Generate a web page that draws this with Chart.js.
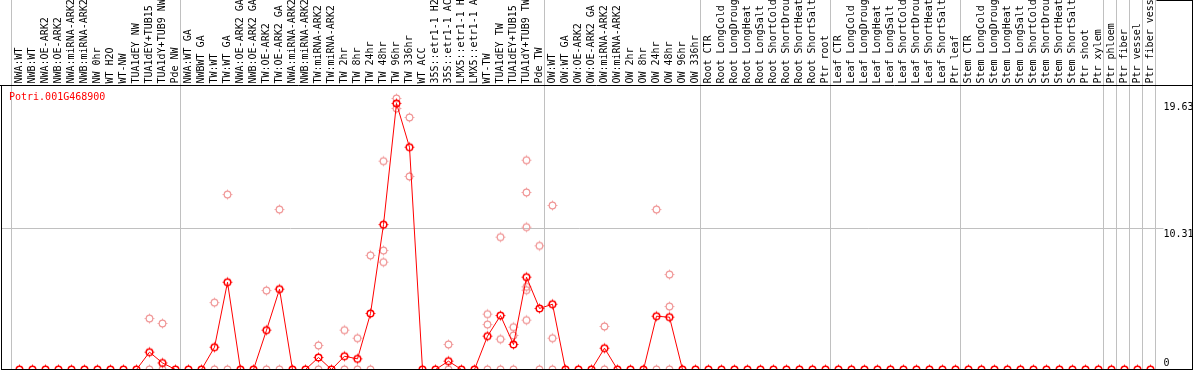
<!DOCTYPE html>
<html>
<head>
<meta charset="utf-8">
<script src="https://cdn.jsdelivr.net/npm/chart.js"></script>
<style>
  html, body { margin: 0; padding: 0; background: #fff; }
  canvas { display: block; }
</style>
</head>
<body>
<canvas id="chart" width="1194" height="370"></canvas>
<script>
// sample names, left to right
const sampleLabels = [
  "NWA:WT", "NWB:WT", "NWA:OE-ARK2", "NWB:OE-ARK2", "NWA:miRNA-ARK2", "NWB:miRNA-ARK2",
  "NW 0hr", "WT H2O", "WT-NW", "TUA1dEY NW", "TUA1dEY+TUB15", "TUA1dY+TUB9 NW", "Pde NW",
  "NWA:WT GA", "NWBWT GA", "TW:WT", "TW:WT GA", "NWA:OE-ARK2 GA", "NWB:OE-ARK2 GA",
  "TW:OE-ARK2", "TW:OE-ARK2 GA", "NWA:miRNA-ARK2", "NWB:miRNA-ARK2", "TW:miRNA-ARK2", "TW:miRNA-ARK2",
  "TW 2hr", "TW 8hr", "TW 24hr", "TW 48hr", "TW 96hr", "TW 336hr", "WT ACC",
  "35S::etr1-1 H2O", "35S::etr1-1 ACC", "LMX5::etr1-1 H2O", "LMX5::etr1-1 ACC",
  "WT-TW", "TUA1dEY TW", "TUA1dEY+TUB15", "TUA1dY+TUB9 TW", "Pde TW",
  "OW:WT", "OW:WT GA", "OW:OE-ARK2", "OW:OE-ARK2 GA", "OW:miRNA-ARK2", "OW:miRNA-ARK2",
  "OW 2hr", "OW 8hr", "OW 24hr", "OW 48hr", "OW 96hr", "OW 336hr",
  "Root CTR", "Root LongCold", "Root LongDrought", "Root LongHeat", "Root LongSalt",
  "Root ShortCold", "Root ShortDrought", "Root ShortHeat", "Root ShortSalt", "Ptr root",
  "Leaf CTR", "Leaf LongCold", "Leaf LongDrought", "Leaf LongHeat", "Leaf LongSalt",
  "Leaf ShortCold", "Leaf ShortDrought", "Leaf ShortHeat", "Leaf ShortSalt", "Ptr leaf",
  "Stem CTR", "Stem LongCold", "Stem LongDrought", "Stem LongHeat", "Stem LongSalt",
  "Stem ShortCold", "Stem ShortDrought", "Stem ShortHeat", "Stem ShortSalt",
  "Ptr shoot", "Ptr xylem", "Ptr phloem", "Ptr fiber", "Ptr vessel", "Ptr fiber vessel"
];

// mean expression per sample
const meanValues = [
  0, 0, 0, 0, 0, 0, 0, 0, 0, 0, 1.27, 0.48, 0,
  0, 0, 1.63, 6.39, 0, 0, 2.88, 5.88, 0, 0, 0.88, 0,
  0.97, 0.78, 4.10, 10.61, 19.48, 16.27, 0, 0, 0.61, 0, 0,
  2.44, 3.95, 1.83, 6.76, 4.47,
  4.78, 0, 0, 0, 1.56, 0, 0, 0, 3.90, 3.83, 0, 0,
  0, 0, 0, 0, 0, 0, 0, 0, 0, 0,
  0, 0, 0, 0, 0, 0, 0, 0, 0, 0,
  0, 0, 0, 0, 0, 0, 0, 0, 0,
  0, 0, 0, 0, 0, 0
];

// individual replicate values, keyed by sample index (only samples with signal)
const replicateIndex = [10, 11, 15, 16, 19, 20, 23, 25, 26, 27, 28, 29, 30, 33, 36, 37, 38, 39, 40, 41, 45, 49, 50];
const replicateValues = [
  [3.73, 0], [3.37, 0], [4.90, 0], [12.81, 0],
  [5.78, 0], [11.71, 0], [1.76, 0], [2.88, 0],
  [2.29, 0], [8.35, 0], [15.25, 8.71, 7.86], [19.84, 19.11],
  [18.45, 14.13], [1.83, 0], [4.05, 3.29, 0], [9.69, 2.22, 0],
  [3.10, 2.49, 0], [15.32, 12.96, 10.42, 6.05, 5.81, 3.61],
  [9.05, 0], [12.01, 2.29, 0], [3.15, 0], [11.71, 0],
  [6.95, 4.61, 0]
];

// first sample of each group (group dividers)
const groupStarts = [0, 13, 41, 53, 63, 73, 84, 85, 86, 87, 88];

const yTicks = [0, 10.31, 19.63];
const geneName = "Potri.001G468900";

const monoFont = { family: "DejaVu Sans Mono", size: 10, lineHeight: 1.2 };

// hollow circle with four small notches, like the original plot symbol
function makeMarker(color, lw) {
  const c = document.createElement("canvas");
  c.width = 13;
  c.height = 13;
  const g = c.getContext("2d");
  g.strokeStyle = color;
  g.fillStyle = color;
  g.lineWidth = lw;
  g.beginPath();
  g.arc(6.5, 6.5, 3.3, 0, Math.PI * 2);
  g.stroke();
  g.fillRect(6, 1.6, 1, 1.2);
  g.fillRect(6, 10.2, 1, 1.2);
  g.fillRect(1.6, 6, 1.2, 1);
  g.fillRect(10.2, 6, 1.2, 1);
  return c;
}

const meanPoints = meanValues.map(function (v, i) { return { x: i, y: v }; });
const repPoints = [];
replicateIndex.forEach(function (k, n) {
  replicateValues[n].forEach(function (v) { repPoints.push({ x: k, y: v }); });
});

// two-line labels push the text below (or above, for 0) the tick like the original
function yTickText(v) {
  if (v === 0) return ["0", " "];
  return [" ", String(v)];
}

const framePlugin = {
  id: "frame",
  beforeDatasetsDraw: function (chart) {
    const ctx = chart.ctx;
    const xs = chart.scales.x;
    const area = chart.chartArea;
    ctx.save();
    ctx.strokeStyle = "#c0c0c0";
    ctx.lineWidth = 1;
    groupStarts.forEach(function (k) {
      const px = Math.round(xs.getPixelForValue(k - 0.5)) - 1.5;
      ctx.beginPath();
      ctx.moveTo(px, 0);
      ctx.lineTo(px, area.bottom);
      ctx.stroke();
    });
    ctx.restore();
  },
  afterDatasetsDraw: function (chart) {
    const ctx = chart.ctx;
    const area = chart.chartArea;
    const w = chart.width;
    const h = chart.height;
    ctx.save();
    ctx.strokeStyle = "#000";
    ctx.lineWidth = 1;
    ctx.beginPath();
    ctx.moveTo(0, area.top); ctx.lineTo(w - 1, area.top);
    ctx.moveTo(1.5, area.top); ctx.lineTo(1.5, h);
    ctx.moveTo(w - 1.5, 0); ctx.lineTo(w - 1.5, h);
    ctx.moveTo(area.right, 0.5); ctx.lineTo(w - 1, 0.5);
    ctx.moveTo(1, h - 0.5); ctx.lineTo(w - 1, h - 0.5);
    ctx.stroke();
    ctx.fillStyle = "#ff0000";
    ctx.font = "10px 'DejaVu Sans Mono'";
    ctx.textBaseline = "middle";
    ctx.textAlign = "left";
    ctx.fillText(geneName, 9, area.top + 12);
    ctx.restore();
  }
};

new Chart(document.getElementById("chart").getContext("2d"), {
  type: "line",
  data: {
    datasets: [
      {
        label: geneName,
        data: meanPoints,
        borderColor: "#ff0000",
        borderWidth: 1,
        tension: 0,
        pointStyle: makeMarker("#ff0000", 1.5),
        pointRadius: 0.5,
        pointBorderWidth: 0,
        pointHoverRadius: 0.5,
        order: 0
      },
      {
        label: "replicates",
        data: repPoints,
        showLine: false,
        borderWidth: 0,
        borderColor: "#f09696",
        pointStyle: makeMarker("#f09696", 1.2),
        pointRadius: 0.5,
        pointBorderWidth: 0,
        pointHoverRadius: 0.5,
        order: 1
      }
    ]
  },
  options: {
    responsive: false,
    animation: false,
    layout: { padding: { left: 1.5, right: 1.5, bottom: 0.5, top: 0 } },
    plugins: { legend: { display: false }, tooltip: { enabled: false } },
    scales: {
      x: {
        type: "linear",
        position: "top",
        min: -18 / 13,
        max: 1155 / 13 - 18 / 13,
        afterBuildTicks: function (s) { s.ticks = sampleLabels.map(function (t, i) { return { value: i }; }); },
        afterFit: function (s) {
          s.height = 85.5;
          s.paddingLeft = 0;
          s.paddingRight = 0;
        },
        grid: { display: false, drawTicks: false },
        border: { display: false },
        ticks: {
          autoSkip: false,
          minRotation: 90,
          maxRotation: 90,
          padding: 2,
          labelOffset: 12,
          color: "#000",
          font: monoFont,
          callback: function (v) { return sampleLabels[v]; }
        }
      },
      y: {
        position: "right",
        min: 0,
        max: 20.79,
        afterBuildTicks: function (s) { s.ticks = yTicks.map(function (v) { return { value: v }; }); },
        afterFit: function (s) {
          s.width = 36;
          s.paddingTop = 0;
          s.paddingBottom = 0;
        },
        grid: {
          color: function (c) { return (c.tick && c.tick.value === 10.31) ? "#c0c0c0" : "rgba(0,0,0,0)"; },
          drawTicks: true,
          tickLength: 7
        },
        border: { display: false },
        ticks: {
          padding: 0,
          color: "#000",
          font: monoFont,
          callback: yTickText
        }
      }
    }
  },
  plugins: [framePlugin]
});
</script>
</body>
</html>
